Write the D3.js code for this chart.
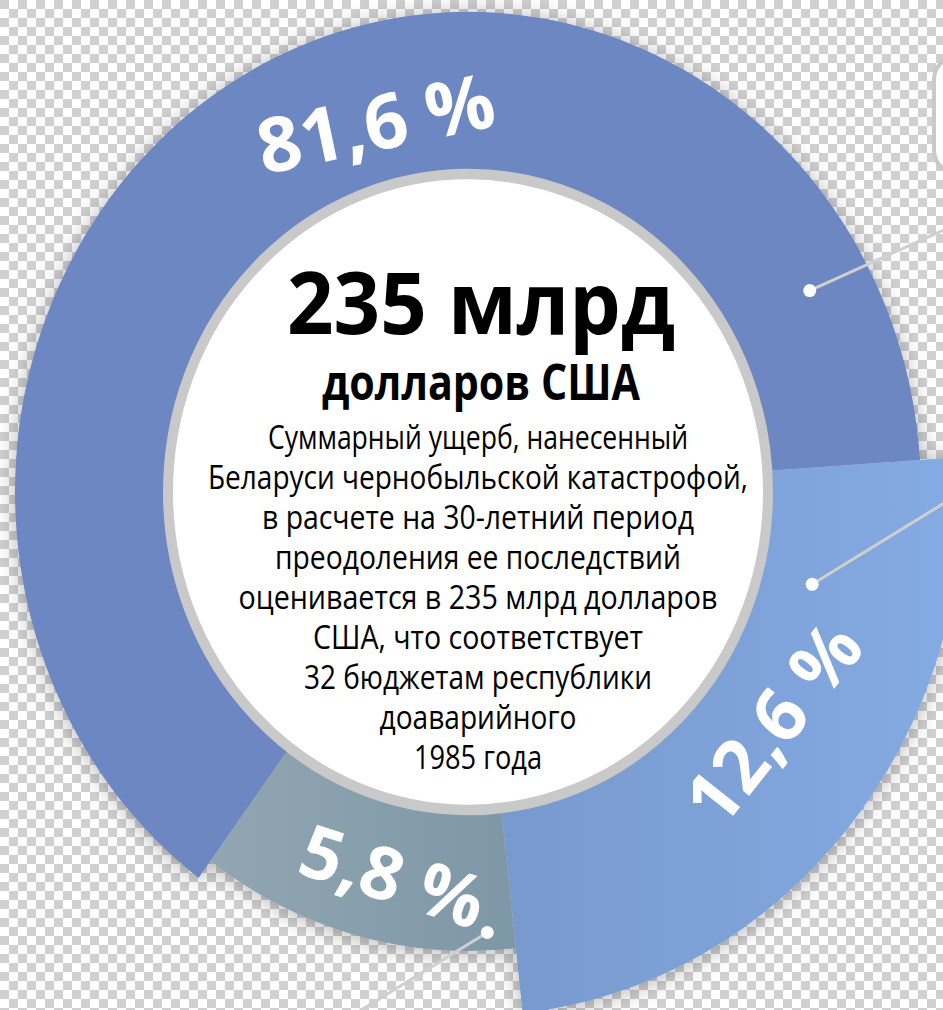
<!DOCTYPE html>
<html>
<head>
<meta charset="utf-8">
<script src="https://cdn.jsdelivr.net/npm/d3@7"></script>
<style>
  html, body { margin: 0; padding: 0; background: #fff; }
  svg { display: block; }
</style>
</head>
<body>
<svg id="chart"></svg>
<script>
// shares of the damage, as printed on the ring
var categories = ["81,6 %", "12,6 %", "5,8 %"];
var values = [81.6, 12.6, 5.8];
// sweep of each arc as drawn in the picture (the ring is not to scale), % of the circle
var drawnShare = [63.8, 24.3, 11.9];

var headline = "235 млрд";
var subhead = "долларов США";
var bodyLines = [
  "Суммарный ущерб, нанесенный",
  "Беларуси чернобыльской катастрофой,",
  "в расчете на 30-летний период",
  "преодоления ее последствий",
  "оценивается в 235 млрд долларов",
  "США, что соответствует",
  "32 бюджетам республики",
  "доаварийного",
  "1985 года"
];

var width = 943,
    height = 1010;

// ring layout
var cx = 468, cy = 492, squash = 1.06;
var innerR = 305;
var outerR = [453, 495, 433];
var startDeg = 216.5;
var fills = ["#6c87c1", "url(#g126)", "url(#g58)"];

// label and leader placement (fraction along arc, radius, extra tilt)
var labelPos = [
  { t: 0.56, r: 362, tilt: 3, size: 76 },
  { t: 0.45, r: 373, tilt: 3, size: 74 },
  { t: 0.42, r: 368, tilt: 6, size: 73 }
];
var dotPos = [
  { t: 0.89, r: 391, dir: -24.3 },
  { t: 0.206, r: 355, dir: -31.6 },
  { t: 0.086, r: 416, dir: 148.4 }
];

var font = "'Open Sans', 'Noto Sans', sans-serif";
var rad = Math.PI / 180;

var svg =
  d3.select("#chart")
      .attr("width", width)
      .attr("height", height);

var defs = svg.append("defs");

// checkerboard "transparent" background
var pat =
  defs.append("pattern")
      .attr("id", "checker")
      .attr("width", 18)
      .attr("height", 18)
      .attr("patternUnits", "userSpaceOnUse");
pat.append("rect").attr("width", 18).attr("height", 18).attr("fill", "#ffffff");
pat.append("rect").attr("width", 9).attr("height", 9).attr("fill", "#d0d0d0");
pat.append("rect").attr("x", 9).attr("y", 9).attr("width", 9).attr("height", 9).attr("fill", "#d0d0d0");

var g126 = defs.append("linearGradient").attr("id", "g126").attr("x1", 0).attr("x2", 1);
g126.append("stop").attr("offset", "0%").attr("stop-color", "#7899cd");
g126.append("stop").attr("offset", "100%").attr("stop-color", "#84abe3");

var g58 = defs.append("linearGradient").attr("id", "g58").attr("x1", 0).attr("x2", 1);
g58.append("stop").attr("offset", "0%").attr("stop-color", "#91a6b2");
g58.append("stop").attr("offset", "100%").attr("stop-color", "#7e97a6");

var shadow =
  defs.append("filter")
      .attr("id", "shadow")
      .attr("x", "-20%").attr("y", "-20%")
      .attr("width", "140%").attr("height", "140%");
shadow.append("feDropShadow")
    .attr("dx", 0)
    .attr("dy", 2)
    .attr("stdDeviation", 11)
    .attr("flood-color", "#000")
    .attr("flood-opacity", 0.3);

svg.append("rect")
    .attr("width", width)
    .attr("height", height)
    .attr("fill", "url(#checker)");

// edge of the neighbouring callout box, top right
svg.append("rect")
    .attr("x", 934)
    .attr("y", 56)
    .attr("width", 120)
    .attr("height", 118)
    .attr("rx", 24)
    .attr("fill", "#fff")
    .attr("stroke", "#c9c9c9")
    .attr("stroke-width", 4);

// pie with custom sweep
var arcs =
  d3.pie()
      .sort(null)
      .value((d, i) => drawnShare[i])
      .startAngle(startDeg * rad)
      .endAngle(startDeg * rad + 2 * Math.PI)
      (values);

var path =
  d3.arc()
      .innerRadius(innerR - 4)
      .outerRadius(d => outerR[d.index]);

var ring =
  svg.append("g")
      .attr("transform", `translate(${cx}, ${cy}) scale(1, ${squash})`);

ring.append("g")
    .attr("filter", "url(#shadow)")
  .selectAll(".arc")
  .data(arcs)
  .enter()
  .append("path")
    .classed("arc", true)
    .attr("d", path)
    .attr("fill", d => fills[d.index]);

// white centre disc with grey rim
ring.append("circle")
    .attr("r", innerR - 5)
    .attr("fill", "#fff")
    .attr("stroke", "#c9c9c9")
    .attr("stroke-width", 10);

function polar(a, t, r) {
  var ang = a.startAngle + t * (a.endAngle - a.startAngle);
  return {
    x: cx + r * Math.sin(ang),
    y: cy - r * Math.cos(ang) * squash,
    deg: ang / rad
  };
}

// leader lines and dots
arcs.forEach((a, i) => {
  var p = polar(a, dotPos[i].t, dotPos[i].r);
  var d = dotPos[i].dir * rad;
  svg.append("line")
      .attr("x1", p.x)
      .attr("y1", p.y)
      .attr("x2", p.x + 600 * Math.cos(d))
      .attr("y2", p.y + 600 * Math.sin(d))
      .attr("stroke", "#cfcfcf")
      .attr("stroke-width", 3);
  svg.append("circle")
      .attr("cx", p.x)
      .attr("cy", p.y)
      .attr("r", 6.5)
      .attr("fill", "#fff");
});

// percentage labels on the ring
svg.selectAll(".pct")
  .data(arcs)
  .enter()
  .append("text")
    .classed("pct", true)
    .each(function(a, i) {
      var lp = labelPos[i];
      var p = polar(a, lp.t, lp.r);
      var deg = ((p.deg % 360) + 360) % 360;
      var rot = (deg > 270 || deg < 90) ? deg : deg - 180;
      if (rot > 180) rot -= 360;
      d3.select(this)
          .attr("transform", `translate(${p.x}, ${p.y}) rotate(${rot + lp.tilt})`)
          .style("font-size", lp.size + "px");
    })
    .attr("text-anchor", "middle")
    .attr("dominant-baseline", "central")
    .attr("fill", "#fff")
    .style("font-family", font)
    .style("font-weight", 700)
    .text((d, i) => categories[i]);

// centre text
var textX = 478;

function fitText(sel, target) {
  var w = sel.node().getComputedTextLength();
  if (w > target) {
    sel.attr("textLength", target).attr("lengthAdjust", "spacingAndGlyphs");
  }
}

var h1 =
  svg.append("text")
      .attr("x", textX + 3)
      .attr("y", 334)
      .attr("text-anchor", "middle")
      .style("font-family", font)
      .style("font-weight", 700)
      .style("font-size", "86px")
      .attr("fill", "#000")
      .text(headline);
fitText(h1, 388);

var h2 =
  svg.append("text")
      .attr("x", textX + 3)
      .attr("y", 400)
      .attr("text-anchor", "middle")
      .style("font-family", font)
      .style("font-weight", 700)
      .style("font-size", "51px")
      .attr("fill", "#000")
      .text(subhead);
fitText(h2, 318);

var bodyWidths = [420, 540, 432, 406, 479, 330, 348, 197, 128];

svg.selectAll(".body-line")
  .data(bodyLines)
  .enter()
  .append("text")
    .classed("body-line", true)
    .attr("x", textX)
    .attr("y", (d, i) => 449 + i * 40)
    .attr("text-anchor", "middle")
    .style("font-family", font)
    .style("font-size", "32px")
    .attr("fill", "#000")
    .text(d => d)
    .each(function(d, i) { fitText(d3.select(this), bodyWidths[i]); });
</script>
</body>
</html>
